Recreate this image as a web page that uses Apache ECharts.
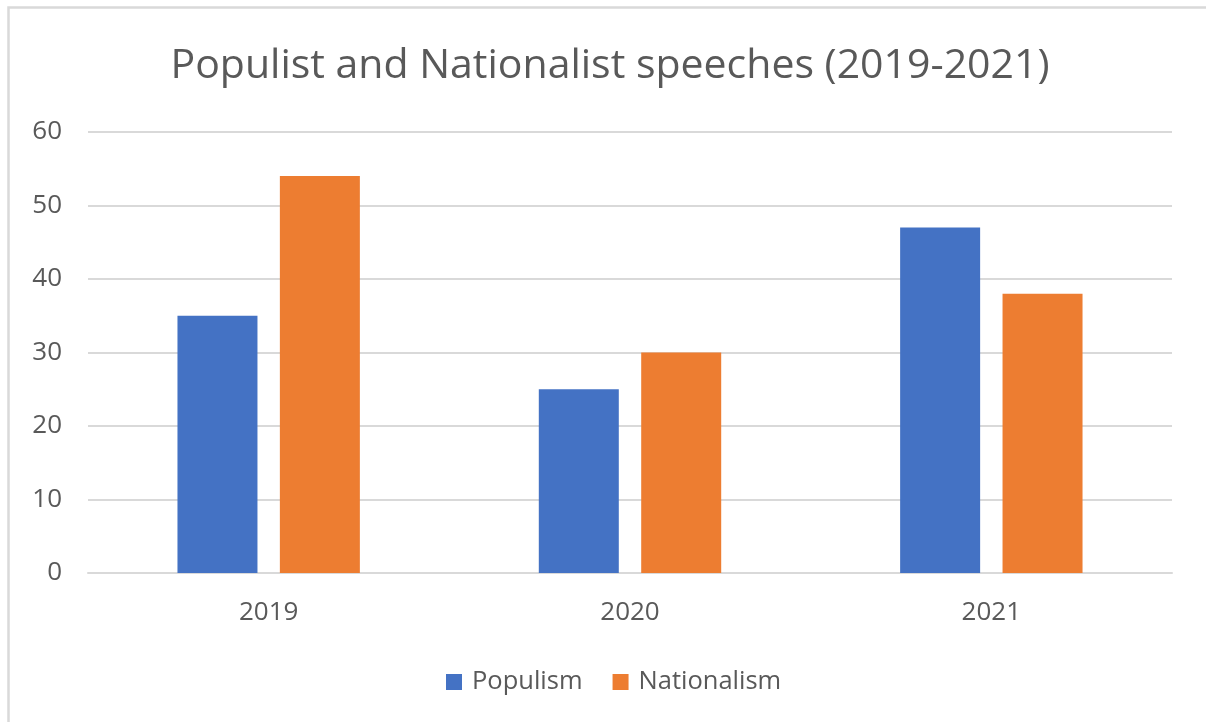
<!DOCTYPE html>
<html>
<head>
<meta charset="utf-8">
<script src="https://cdn.jsdelivr.net/npm/echarts@6/dist/echarts.min.js"></script>
<style>
html,body{margin:0;padding:0;background:#fff;}
#chart{width:1206px;height:722px;}
</style>
</head>
<body>
<div id="chart"></div>
<script>
const titleText = 'Populist and Nationalist speeches (2019-2021)';
const categories = ['2019', '2020', '2021'];
const populism = [35, 25, 47];
const nationalism = [54, 30, 38];
const seriesNames = ['Populism', 'Nationalism'];

const FONT = '"Open Sans", "Noto Sans", sans-serif';
const TEXT = '#595959';
const chart = echarts.init(document.getElementById('chart'), null, {renderer: 'canvas'});
chart.setOption({
  backgroundColor: '#ffffff',
  animation: false,
  color: ['#4472C4', '#ED7D31'],
  graphic: [{
    type: 'rect', z: -1, silent: true,
    shape: {x: 8.5, y: 7.5, width: 1300, height: 800},
    style: {fill: 'none', stroke: '#d9d9d9', lineWidth: 2.5}
  }],
  title: {
    text: titleText, left: 605, top: 41, textAlign: 'center',
    textStyle: {fontFamily: FONT, fontSize: 41, fontWeight: 'normal', color: TEXT}
  },
  legend: {
    data: seriesNames, top: 664, left: 441,
    icon: 'rect', itemWidth: 16, itemHeight: 16, itemGap: 30,
    textStyle: {fontFamily: FONT, fontSize: 25.5, color: TEXT, padding: [0, 0, 0, 5]}
  },
  grid: {left: 88, right: 34, top: 132, bottom: 149, containLabel: false},
  xAxis: {
    type: 'category', data: categories,
    axisLine: {show: true, lineStyle: {color: '#d9d9d9', width: 2}},
    axisTick: {show: false},
    axisLabel: {fontFamily: FONT, fontSize: 26, color: TEXT, margin: 27}
  },
  yAxis: {
    type: 'value', min: 0, max: 60, interval: 10,
    axisLine: {show: false}, axisTick: {show: false},
    splitLine: {lineStyle: {color: '#d9d9d9', width: 2}},
    axisLabel: {fontFamily: FONT, fontSize: 26, color: TEXT, margin: 26}
  },
  series: [
    {name: seriesNames[0], type: 'bar', data: populism, barWidth: 80, barGap: '28%'},
    {name: seriesNames[1], type: 'bar', data: nationalism, barWidth: 80, barGap: '28%'}
  ]
});
</script>
</body>
</html>
